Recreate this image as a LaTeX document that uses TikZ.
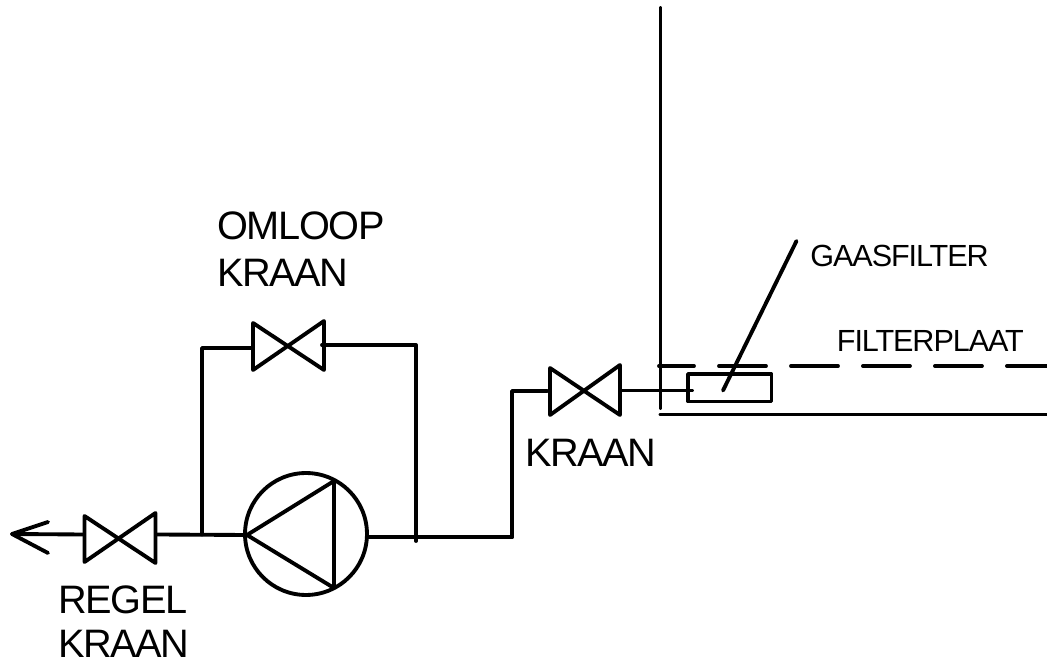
\documentclass[tikz,border=0pt]{standalone}
\usepackage{fontspec}
\setmainfont{Liberation Sans}[LetterSpace=-3.5]
\begin{document}
\begin{tikzpicture}[x=0.02cm,y=0.02cm]
\tikzstyle{every node}+=[inner sep=0pt]
\tikzset{pipe/.style={black,line width=2.2pt,line cap=round,line join=round},
  biglabel/.style={anchor=base west,font=\fontsize{22.6}{24}\selectfont},
  smalllabel/.style={anchor=base west,font=\fontsize{17.4}{19}\selectfont}}
\useasboundingbox (0,0) rectangle (1047,-661);
% uitlaat
\coordinate (tip) at (12,-534);
\coordinate (barbup) at (48,-522);
\coordinate (barbdown) at (48,-553);
% regelkraan
\coordinate (regelTL) at (84.5,-516);
\coordinate (regelBL) at (84.5,-562);
\coordinate (regelTR) at (155.5,-513);
\coordinate (regelBR) at (155.5,-563);
\coordinate (regelin) at (84,-534.5);
\coordinate (regelout) at (157,-534.5);
% pomp
\node [draw,pipe,circle,minimum size=2.44cm] (pomp) at (306,-534) {};
\coordinate (pompA) at (247,-535);
\coordinate (pompB) at (334,-481);
\coordinate (pompC) at (334,-588);
\coordinate (pompout) at (368,-537);
% omloop
\coordinate (aftak) at (202,-534.5);
\coordinate (hoekL) at (202,-348);
\coordinate (omloopTL) at (253,-323);
\coordinate (omloopBL) at (253,-370);
\coordinate (omloopTR) at (324,-321);
\coordinate (omloopBR) at (324,-370);
\coordinate (omloopin) at (253,-348);
\coordinate (omloopout) at (322,-345);
\coordinate (hoekR) at (416,-345);
\coordinate (hoekRend) at (416,-541);
% kraan
\coordinate (knikO) at (512,-537);
\coordinate (knikB) at (512,-391);
\coordinate (kraanTL) at (550,-368);
\coordinate (kraanBL) at (550,-415);
\coordinate (kraanTR) at (620,-365);
\coordinate (kraanBR) at (620,-415);
\coordinate (kraanin) at (547,-391);
\coordinate (kraanout) at (622,-390.5);
% vat
\coordinate (vatT) at (660.5,-8);
\coordinate (vatB) at (660.5,-408);
\coordinate (bodemL) at (660.5,-414.5);
\coordinate (bodemR) at (1047,-414.5);
\coordinate (plaatL) at (659,-366);
\coordinate (plaatR) at (1047,-366);
% filter
\coordinate (filterTL) at (688,-374);
\coordinate (filterBR) at (771.5,-401.5);
\coordinate (filterin) at (692,-390.5);
\coordinate (wijsT) at (796.5,-241);
\coordinate (wijsB) at (723,-390.5);
\draw [pipe] (regelin) -- (tip);
\draw [pipe] (barbup) -- (tip) -- (barbdown);
\draw [pipe] (regelTL) -- (regelBR) -- (regelTR) -- (regelBL) -- cycle;
\draw [pipe] (regelout) -- (pompA);
\draw [pipe] (pompA) -- (pompB) -- (pompC) -- cycle;
\draw [pipe] (aftak) -- (hoekL) -- (omloopin);
\draw [pipe] (omloopTL) -- (omloopBR) -- (omloopTR) -- (omloopBL) -- cycle;
\draw [pipe] (omloopout) -- (hoekR) -- (hoekRend);
\draw [pipe] (pompout) -- (knikO);
\draw [pipe] (knikO) -- (knikB) -- (kraanin);
\draw [pipe] (kraanTL) -- (kraanBR) -- (kraanTR) -- (kraanBL) -- cycle;
\draw [pipe] (kraanout) -- (filterin);
\draw [pipe] (vatT) -- (vatB);
\draw [pipe] (bodemL) -- (bodemR);
\draw [pipe,dash pattern=on 0.94cm off 0.5cm,dash phase=0.24cm] (plaatL) -- (plaatR);
\draw [pipe] (filterTL) rectangle (filterBR);
\draw [pipe] (wijsT) -- (wijsB);
\node [biglabel] (omloop) at (217,-240) {OMLOOP};
\node [biglabel] (omloopkraan) at (217,-286.5) {KRAAN};
\node [biglabel] (regel) at (58,-613) {REGEL};
\node [biglabel] (regelkraan) at (58,-657.5) {KRAAN};
\node [biglabel] (kraan) at (525,-467) {KRAAN};
\node [smalllabel] (gaasfilter) at (810,-267) {GAASFILTER};
\node [smalllabel] (filterplaat) at (836.5,-351.5) {FILTERPLAAT};
\end{tikzpicture}
\end{document}
